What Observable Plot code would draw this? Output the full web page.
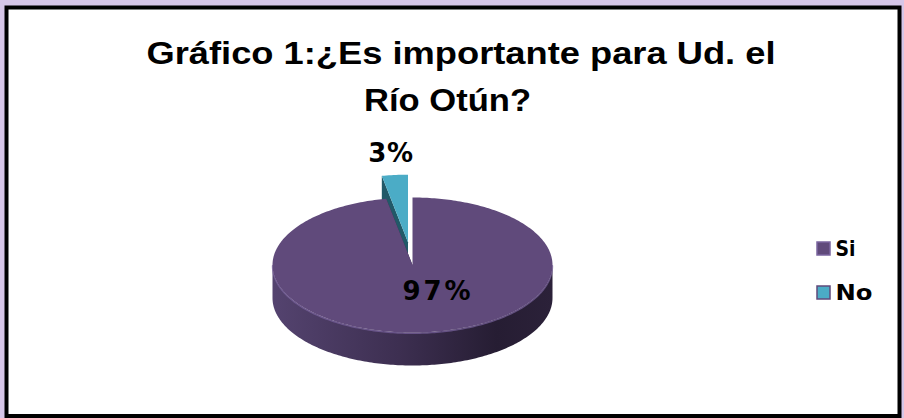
<!DOCTYPE html>
<html>
<head>
<meta charset="utf-8">
<script src="https://cdn.jsdelivr.net/npm/d3@7"></script>
<script src="https://cdn.jsdelivr.net/npm/@observablehq/plot@0.6"></script>
<style>
  html, body { margin: 0; padding: 0; background: #d6c6e8; }
  #chart svg { display: block; }
</style>
</head>
<body>
<div id="chart"></div>
<script>
// ---- data ----
const categories = ["Si", "No"];
const values = [97, 3];
const percentLabels = ["97%", "3%"];
const titleLines = ["Gráfico 1:¿Es importante para Ud. el", "Río Otún?"];

// ---- style / layout ----
const W = 904, H = 418;
const topColors = ["#604A7B", "#4BACC6"];
const radialColors = ["#3a2c4c", "#215968"];
const wallStops = [
  [["0", "#54436f"], ["0.45", "#3d2f51"], ["0.8", "#261d33"], ["1", "#2b2139"]],
  [["0", "#2e7f94"], ["1", "#1b4a56"]]
];
const legendBorders = ["#7b66a0", "#604A7B"];
const pieL = {cx: 412, cy: 264.5, rx: 140, ry: 67.5, depth: 33};
const explode = [0, 0.34];
const labelK = [0.38, 1.66];
const labelDx = [19, 0];
const labelDy = [1.5, 0];
const titleL = {x: [460.5, 447], y: [53.7, 100.4], size: 30.5};
const legendL = {x: 817, y0: 242, step: 44, box: 13, textX: 835};
// target text widths (px) and fitting mode for the substitute fonts
const textFit = {
  "Gráfico 1:¿Es importante para Ud. el": [629, "spacingAndGlyphs"],
  "Río Otún?": [167, "spacingAndGlyphs"],
  "97%": [68, "spacing"], "3%": [45, "spacing"],
  "Si": [20, "spacingAndGlyphs"], "No": [37, "spacingAndGlyphs"]
};

// ---- geometry derived from values ----
const arcs = d3.pie().sort(null).value(d => d)(values);
const slices = arcs.map((a, i) => {
  const mid = (a.startAngle + a.endAngle) / 2;
  const off = [explode[i] * pieL.rx * Math.sin(mid), -explode[i] * pieL.ry * Math.cos(mid)];
  return {i, a0: a.startAngle, a1: a.endAngle, mid, off};
});
function pt(a, off, drop) {
  return {x: pieL.cx + off[0] + pieL.rx * Math.sin(a), y: pieL.cy + off[1] - pieL.ry * Math.cos(a) + drop};
}
function arcPts(a0, a1, off, drop) {
  const n = Math.max(2, Math.ceil(Math.abs(a1 - a0) / (Math.PI / 180)));
  return d3.range(n + 1).map(k => pt(a0 + (a1 - a0) * k / n, off, drop));
}
function center(off, drop) { return {x: pieL.cx + off[0], y: pieL.cy + off[1] + drop}; }

const order = slices.slice().sort((p, q) => Math.cos(q.mid) - Math.cos(p.mid));
const pieMarks = [];
for (const s of order) {
  const {off} = s;
  for (const a of [s.a0, s.a1]) {
    const face = [center(off, 0), pt(a, off, 0), pt(a, off, pieL.depth), center(off, pieL.depth)];
    pieMarks.push(Plot.line(face, {x: "x", y: "y", fill: radialColors[s.i], stroke: "none"}));
  }
  const w0 = Math.max(s.a0, Math.PI / 2), w1 = Math.min(s.a1, 3 * Math.PI / 2);
  if (w1 > w0) {
    const wall = arcPts(w0, w1, off, 0).concat(arcPts(w1, w0, off, pieL.depth));
    pieMarks.push(Plot.line(wall, {x: "x", y: "y", fill: `url(#wall${s.i})`, stroke: "none"}));
    pieMarks.push(Plot.line(arcPts(w0, w1, off, 0.8), {x: "x", y: "y", stroke: "#7a64a0", strokeWidth: 1.4, strokeOpacity: 0.7}));
  }
  const top = [center(off, 0)].concat(arcPts(s.a0, s.a1, off, 0), [center(off, 0)]);
  pieMarks.push(Plot.line(top, {x: "x", y: "y", fill: topColors[s.i], stroke: "none"}));
}

const labelData = slices.map(s => {
  const k = labelK[s.i];
  return {
    text: percentLabels[s.i],
    x: pieL.cx + k * pieL.rx * Math.sin(s.mid) + labelDx[s.i],
    y: pieL.cy - k * pieL.ry * Math.cos(s.mid) + labelDy[s.i]
  };
});
const titleData = titleLines.map((t, i) => ({text: t, x: titleL.x[i], y: titleL.y[i]}));
const legendData = categories.map((c, i) => ({
  name: c, color: topColors[i], border: legendBorders[i],
  x1: legendL.x, x2: legendL.x + legendL.box,
  y1: legendL.y0 + i * legendL.step, y2: legendL.y0 + i * legendL.step + legendL.box,
  tx: legendL.textX, ty: legendL.y0 + i * legendL.step + legendL.box / 2
}));

const defsMark = () => {
  const ns = "http://www.w3.org/2000/svg";
  const defs = document.createElementNS(ns, "defs");
  wallStops.forEach((stops, i) => {
    const g = document.createElementNS(ns, "linearGradient");
    g.setAttribute("id", `wall${i}`);
    g.setAttribute("x1", "0"); g.setAttribute("x2", "1");
    g.setAttribute("y1", "0"); g.setAttribute("y2", "0");
    for (const [o, c] of stops) {
      const st = document.createElementNS(ns, "stop");
      st.setAttribute("offset", o); st.setAttribute("stop-color", c);
      g.appendChild(st);
    }
    defs.appendChild(g);
  });
  return defs;
};

const chart = Plot.plot({
  width: W, height: H,
  margin: 0,
  x: {domain: [0, W], range: [0, W], axis: null},
  y: {domain: [0, H], range: [0, H], axis: null},
  style: {background: "transparent", overflow: "visible"},
  marks: [
    defsMark,
    Plot.frame({fill: "white", stroke: "black", strokeWidth: 4, insetLeft: 6, insetTop: 7, insetRight: 5, insetBottom: 2.5}),
    ...pieMarks,
    Plot.text(labelData, {x: "x", y: "y", text: "text", fontFamily: "DejaVu Sans", fontWeight: "bold", fontSize: 26, fill: "black"}),
    Plot.text(titleData, {x: "x", y: "y", text: "text", fontFamily: "Liberation Sans", fontWeight: "bold", fontSize: titleL.size, fill: "black"}),
    Plot.rect(legendData, {x1: "x1", x2: "x2", y1: "y1", y2: "y2", fill: "color", stroke: "border", strokeWidth: 1.5}),
    Plot.text(legendData, {x: "tx", y: "ty", text: "name", textAnchor: "start", fontFamily: "DejaVu Sans", fontWeight: "bold", fontSize: 21, fill: "black"})
  ]
});
for (const t of chart.querySelectorAll("text")) {
  const f = textFit[t.textContent];
  if (f) {
    t.setAttribute("textLength", f[0]);
    t.setAttribute("lengthAdjust", f[1]);
  }
}
document.getElementById("chart").appendChild(chart);
</script>
</body>
</html>
